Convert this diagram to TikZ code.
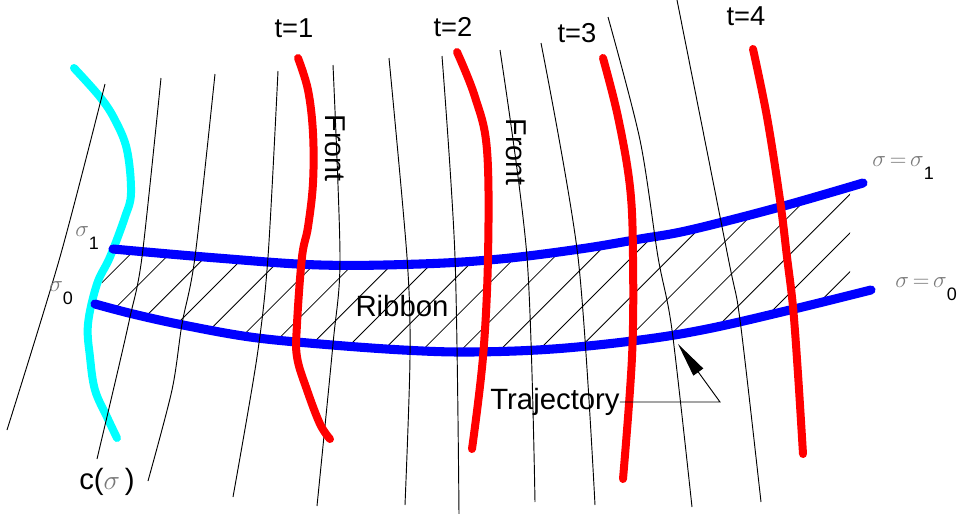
\documentclass[tikz,border=0pt]{standalone}
\usepackage{fontspec}
\setmainfont{Liberation Sans}
\usetikzlibrary{arrows.meta}
\definecolor{cyanline}{RGB}{0,255,255}
\definecolor{blueline}{RGB}{0,0,255}
\definecolor{redline}{RGB}{255,0,0}
\definecolor{siggray}{RGB}{120,120,120}
\begin{document}
\begin{tikzpicture}[x=0.75pt,y=-0.75pt,
  thin line/.style={line width=0.7pt,black},
  hatchline/.style={line width=0.6pt,black},
  thick curve/.style={line width=6pt,line cap=round,line join=round},
  tlabel/.style={font=\fontsize{20.5}{22}\selectfont,inner sep=0pt},
  biglabel/.style={font=\fontsize{22}{24}\selectfont,inner sep=0pt},
  sig/.style={inner sep=0pt,font=\fontsize{17}{18}\selectfont}]
\useasboundingbox (0,0) rectangle (958,514);
% hatching of the ribbon
\begin{scope}
\clip (113,249) -- (217,258) -- (320,265) -- (420,264) -- (500,259) -- (580,249) -- (640,239) -- (690,230) -- (780,207) -- (850,186) -- (850,293) -- (790,310) -- (707,329) -- (640,340) -- (553,349) -- (470,352) -- (403,350) -- (320,344) -- (250,337) -- (183,325) -- (133,314) -- (95,304) -- cycle;
\foreach \k in {-10,...,13}{
  \pgfmathsetmacro\cc{695+38.8*\k}
  \draw[hatchline] (\cc-150,150) -- (\cc-400,400);
}
\end{scope}
% cyan curve c(sigma)
\draw[thick curve,cyanline] plot[smooth,tension=0.6] coordinates {(74,68) (100,97) (115,120) (127,150) (131,193) (125,217) (110,257) (97,284) (88,324) (90,357) (95,390) (107,417) (117,438)};
% blue trajectories
\draw[thick curve,blueline,line width=6.8pt] plot[smooth,tension=0.6] coordinates {(113,249) (217,258) (320,265) (420,264) (500,259) (580,249) (640,239) (690,230) (780,207) (863,183)};
\draw[thick curve,blueline,line width=6.8pt] plot[smooth,tension=0.6] coordinates {(95,304) (133,314) (183,325) (250,337) (320,344) (403,350) (470,352) (553,349) (640,340) (707,329) (790,310) (871,290)};
% thin lines
\draw[thin line] plot[smooth] coordinates {(105,84) (60,257) (7,430)};
\draw[thin line] plot[smooth] coordinates {(161,78) (142,257) (130,317) (118,370) (97,459)};
\draw[thin line] plot[smooth] coordinates {(215,74) (195,257) (182,324) (172,390) (148,481)};
\draw[thin line] plot[smooth] coordinates {(278,71) (268,257) (257,357) (233,497)};
\draw[thin line] plot[smooth] coordinates {(333,65) (340,257) (333,344) (317,506)};
\draw[thin line] plot[smooth] coordinates {(389,58) (407,257) (410,357) (405,505)};
\draw[thin line] plot[smooth] coordinates {(442,56) (455,257) (459,514)};
\draw[thin line] plot[smooth] coordinates {(500,50) (527,257) (535,502)};
\draw[thin line] plot[smooth] coordinates {(541,43) (578,257) (595,505)};
\draw[thin line] plot[smooth] coordinates {(608,17) (640,140) (658,257) (672,330) (692,507)};
\draw[thin line] plot[smooth] coordinates {(677,0) (728,257) (740,320) (761,502)};
% red fronts
\draw[thick curve,redline] plot[smooth,tension=0.6] coordinates {(298,58) (308,90) (313,133) (313,183) (308,227) (302,257) (297,324) (297,357) (307,390) (320,424) (330,439)};
\draw[thick curve,redline] plot[smooth,tension=0.6] coordinates {(457,52) (475,97) (487,150) (488,257) (483,357) (472,449)};
\draw[thick curve,redline] plot[smooth,tension=0.6] coordinates {(603,58) (618,117) (630,187) (633,257) (632,357) (623,479)};
\draw[thick curve,redline] plot[smooth,tension=0.6] coordinates {(753,49) (767,117) (780,200) (787,257) (793,307) (798,374) (803,454)};
% labels
\node[tlabel] (t1) at (294,28) {t=1};
\node[tlabel] (t2) at (453,27) {t=2};
\node[tlabel] (t3) at (577,33) {t=3};
\node[tlabel] (t4) at (746,16) {t=4};
\node[biglabel,font=\fontsize{21.5}{23}\selectfont,rotate=-90] (front1) at (335,148) {Front};
\node[biglabel,font=\fontsize{21.5}{23}\selectfont,rotate=-90] (front2) at (516,152) {Front};
\node[biglabel] (ribbon) at (402,306) {Ribbon};
\node[biglabel] (traj) at (555,402) {Trajectory};
\coordinate (bend) at (720,402);
\coordinate (tip) at (678,344);
\draw[line width=0.7pt,-{Triangle[length=26pt,width=9pt]}] (traj.east) -- (bend) -- (tip);
\node[sig,anchor=west,font=\fontsize{19}{20}\selectfont] (s1) at (75,238) {\textcolor{siggray}{$\sigma$}\raisebox{-1.0ex}{\fontsize{13.5}{14}\selectfont 1}};
\node[sig,anchor=west,font=\fontsize{19}{20}\selectfont] (s0) at (49,293) {\textcolor{siggray}{$\sigma$}\raisebox{-1.0ex}{\fontsize{13.5}{14}\selectfont 0}};
\node[sig,anchor=west] (ss1) at (872,168) {\textcolor{siggray}{$\sigma\mskip3mu{=}\mskip3mu\sigma$}\raisebox{-1.1ex}{\fontsize{13.5}{14}\selectfont 1}};
\node[sig,anchor=west] (ss0) at (895,289) {\textcolor{siggray}{$\sigma\mskip3mu{=}\mskip3mu\sigma$}\raisebox{-1.1ex}{\fontsize{13.5}{14}\selectfont 0}};
\node[biglabel] (c) at (107,482) {c(\textcolor{siggray}{$\sigma$}\,)};
\end{tikzpicture}
\end{document}
